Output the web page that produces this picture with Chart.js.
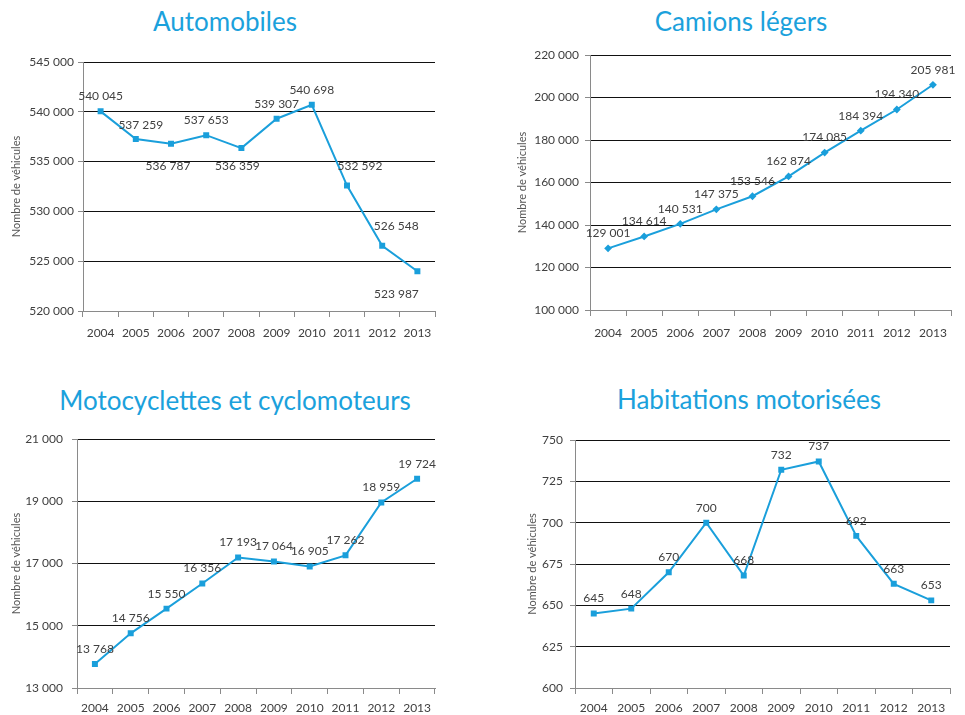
<!DOCTYPE html>
<html>
<head>
<meta charset="utf-8">
<script src="https://cdn.jsdelivr.net/npm/chart.js@4/dist/chart.umd.min.js"></script>
<style>
  body { margin: 0; background: #fff; width: 965px; height: 715px; position: relative; overflow: hidden; }
  .box { position: absolute; }
  .title { position: absolute; width: 460px; text-align: center; font-family: Lato, sans-serif; font-size: 26px; color: #1ba1dc; line-height: 30px; }
</style>
</head>
<body>
<div class="title" style="left:-5px;top:6px;">Automobiles</div>
<div class="title" style="left:511px;top:6px;">Camions légers</div>
<div class="title" style="left:5px;top:385px;">Motocyclettes et cyclomoteurs</div>
<div class="title" style="left:519px;top:384px;">Habitations motorisées</div>

<div class="box" style="left:0;top:0;width:482px;height:357px;"><canvas id="c1"></canvas></div>
<div class="box" style="left:482px;top:0;width:483px;height:357px;"><canvas id="c2"></canvas></div>
<div class="box" style="left:0;top:357px;width:482px;height:358px;"><canvas id="c3"></canvas></div>
<div class="box" style="left:482px;top:357px;width:483px;height:358px;"><canvas id="c4"></canvas></div>

<script>
const years = ["2004", "2005", "2006", "2007", "2008", "2009", "2010", "2011", "2012", "2013"];

const automobiles = [540045, 537259, 536787, 537653, 536359, 539307, 540698, 532592, 526548, 523987];
const camionsLegers = [129001, 134614, 140531, 147375, 153546, 162874, 174085, 184394, 194340, 205981];
const motocyclettes = [13768, 14756, 15550, 16356, 17193, 17064, 16905, 17262, 18959, 19724];
const habitations = [645, 648, 670, 700, 668, 732, 737, 692, 663, 653];

const autoTicks = [520000, 525000, 530000, 535000, 540000, 545000];
const camionTicks = [100000, 120000, 140000, 160000, 180000, 200000, 220000];
const motoTicks = [13000, 15000, 17000, 19000, 21000];
const habTicks = [600, 625, 650, 675, 700, 725, 750];

const BLUE = "#1a9fdb";
const TEXT = "#404040";
const FONT = "Lato, sans-serif";

function fmt(v) {
  return String(v).replace(/\B(?=(\d{3})+(?!\d))/g, " ");
}

// draws the value next to every point
const pointLabels = {
  id: "pointLabels",
  afterDatasetsDraw(chart, args, opts) {
    const ctx = chart.ctx;
    const meta = chart.getDatasetMeta(0);
    const data = chart.data.datasets[0].data;
    ctx.save();
    ctx.font = "12px " + FONT;
    ctx.fillStyle = TEXT;
    ctx.textAlign = "center";
    ctx.textBaseline = "middle";
    meta.data.forEach((pt, i) => {
      const off = (opts.offsets && opts.offsets[i]) || [0, -15];
      ctx.fillText(fmt(data[i]), pt.x + off[0], pt.y + off[1]);
    });
    ctx.restore();
  }
};

function makeChart(id, values, ticks, cfg) {
  const ctx = document.getElementById(id).getContext("2d");
  return new Chart(ctx, {
    type: "line",
    data: {
      labels: years,
      datasets: [{
        data: values,
        borderColor: BLUE,
        backgroundColor: BLUE,
        borderWidth: 2,
        pointStyle: cfg.pointStyle || "rect",
        pointRadius: cfg.pointRadius || 2.8,
        tension: 0,
        clip: false
      }]
    },
    options: {
      responsive: true,
      maintainAspectRatio: false,
      animation: false,
      layout: { padding: cfg.padding },
      plugins: {
        legend: { display: false },
        tooltip: { enabled: false },
        pointLabels: { offsets: cfg.offsets }
      },
      scales: {
        x: {
          type: "category",
          offset: true,
          grid: { offset: true, drawOnChartArea: false, drawTicks: true, tickLength: 6, tickColor: "#8a8a8a" },
          border: { color: "#8a8a8a", width: 1 },
          ticks: { font: { family: FONT, size: 12 }, color: TEXT, padding: cfg.xPad, maxRotation: 0, autoSkip: false },
          afterFit(s) { s.height = cfg.xHeight; }
        },
        y: {
          min: ticks[0],
          max: ticks[ticks.length - 1],
          afterBuildTicks(s) { s.ticks = ticks.map(v => ({ value: v })); },
          grid: { color: "#111", lineWidth: 1, drawTicks: true, tickLength: 5, tickColor: "#8a8a8a" },
          border: { color: "#8a8a8a", width: 1 },
          ticks: { font: { family: FONT, size: 12 }, color: TEXT, padding: cfg.yPad, callback: v => fmt(v) },
          title: { display: true, text: "Nombre de véhicules", font: { family: FONT, size: 11 }, color: "#555", padding: 0 },
          afterFit(s) { s.width = cfg.yWidth; }
        }
      }
    },
    plugins: [pointLabels]
  });
}

makeChart("c1", automobiles, autoTicks, {
  padding: { left: 10, right: 47, top: 62, bottom: 0 },
  yWidth: 73, xHeight: 46, xPad: 9, yPad: 4,
  offsets: [[0, -15], [5, -14], [-3, 22], [0, -15], [-4, 18], [0, -15], [0, -15], [13, -19], [14, -20], [-21, 23]]
});

makeChart("c2", camionsLegers, camionTicks, {
  padding: { left: 34, right: 14, top: 55, bottom: 0 },
  yWidth: 74, xHeight: 47, xPad: 10, yPad: 6,
  pointStyle: "rectRot", pointRadius: 2.5
});

makeChart("c3", motocyclettes, motoTicks, {
  padding: { left: 10, right: 47, top: 82, bottom: 0 },
  yWidth: 67, xHeight: 27, xPad: 7, yPad: 9
});

makeChart("c4", habitations, habTicks, {
  padding: { left: 44, right: 15, top: 83, bottom: 0 },
  yWidth: 49, xHeight: 27, xPad: 7, yPad: 7
});
</script>
</body>
</html>
